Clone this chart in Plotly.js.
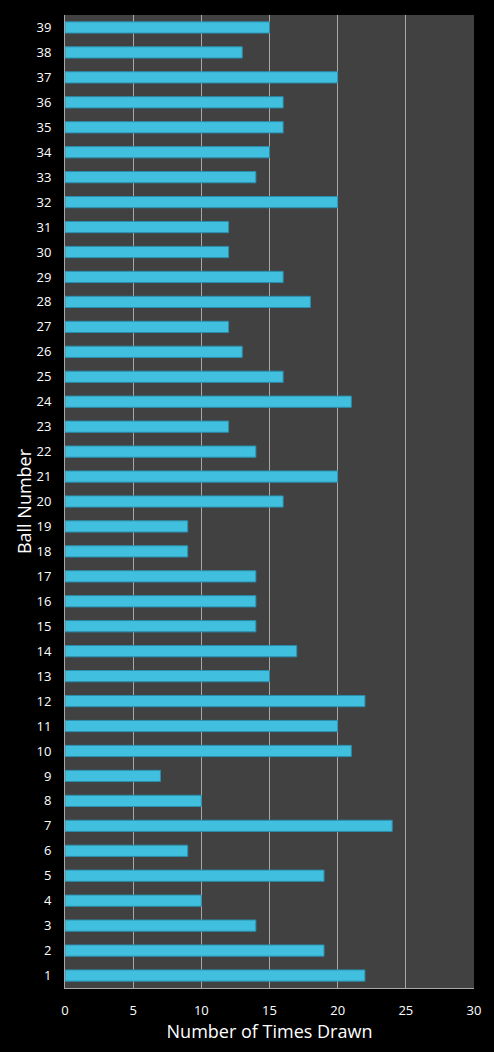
<!DOCTYPE html>
<html>
<head>
<meta charset="utf-8">
<script src="https://cdn.plot.ly/plotly-3.0.1.min.js"></script>
<style>
  html, body { margin: 0; padding: 0; background: #000; }
  #graph { width: 494px; height: 1052px; }
</style>
</head>
<body>
<div id="graph"></div>
<script>
// ball numbers, bottom to top
var balls = [];
for (var b = 1; b <= 39; b++) balls.push(String(b));

// times drawn, in the same order as balls
var timesDrawn = [22, 19, 14, 10, 19, 9, 24, 10, 7, 21,
                  20, 22, 15, 17, 14, 14, 14, 9, 9, 16,
                  20, 14, 12, 21, 16, 13, 12, 18, 16, 12,
                  12, 20, 14, 15, 16, 16, 20, 13, 15];

var xTicks = [0, 5, 10, 15, 20, 25, 30];

var trace = {
    type: 'bar',
    orientation: 'h',
    x: timesDrawn,
    y: balls,
    marker: {
        color: '#40c0de',
        line: { color: '#2a8fae', width: 1 }
    },
    hoverinfo: 'x+y'
};

var layout = {
    width: 494,
    height: 1052,
    margin: { l: 65, r: 20, t: 15, b: 64 },
    paper_bgcolor: '#000000',
    plot_bgcolor: '#414141',
    bargap: 0.55,
    showlegend: false,
    font: { family: 'Open Sans, DejaVu Sans, sans-serif', color: '#ffffff', size: 13 },
    xaxis: {
        range: [0, 30],
        tickvals: xTicks,
        ticktext: xTicks.map(String),
        showgrid: true,
        gridcolor: '#a8a8a8',
        gridwidth: 1,
        zeroline: false,
        showline: true,
        linecolor: '#a8a8a8',
        ticks: '',
        ticklabelstandoff: 10,
        tickfont: { size: 13, color: '#ffffff' },
        title: { text: 'Number of Times Drawn', font: { size: 18, color: '#ffffff' }, standoff: 6 },
        fixedrange: true
    },
    yaxis: {
        type: 'category',
        categoryorder: 'array',
        categoryarray: balls,
        showgrid: false,
        zeroline: false,
        showline: true,
        linecolor: '#a8a8a8',
        ticks: '',
        ticklabelstandoff: 10,
        tickfont: { size: 13, color: '#ffffff' },
        title: { text: 'Ball Number', font: { size: 18, color: '#ffffff' }, standoff: 0 },
        fixedrange: true
    }
};

Plotly.newPlot('graph', [trace], layout, { displayModeBar: false, staticPlot: true });
</script>
</body>
</html>
